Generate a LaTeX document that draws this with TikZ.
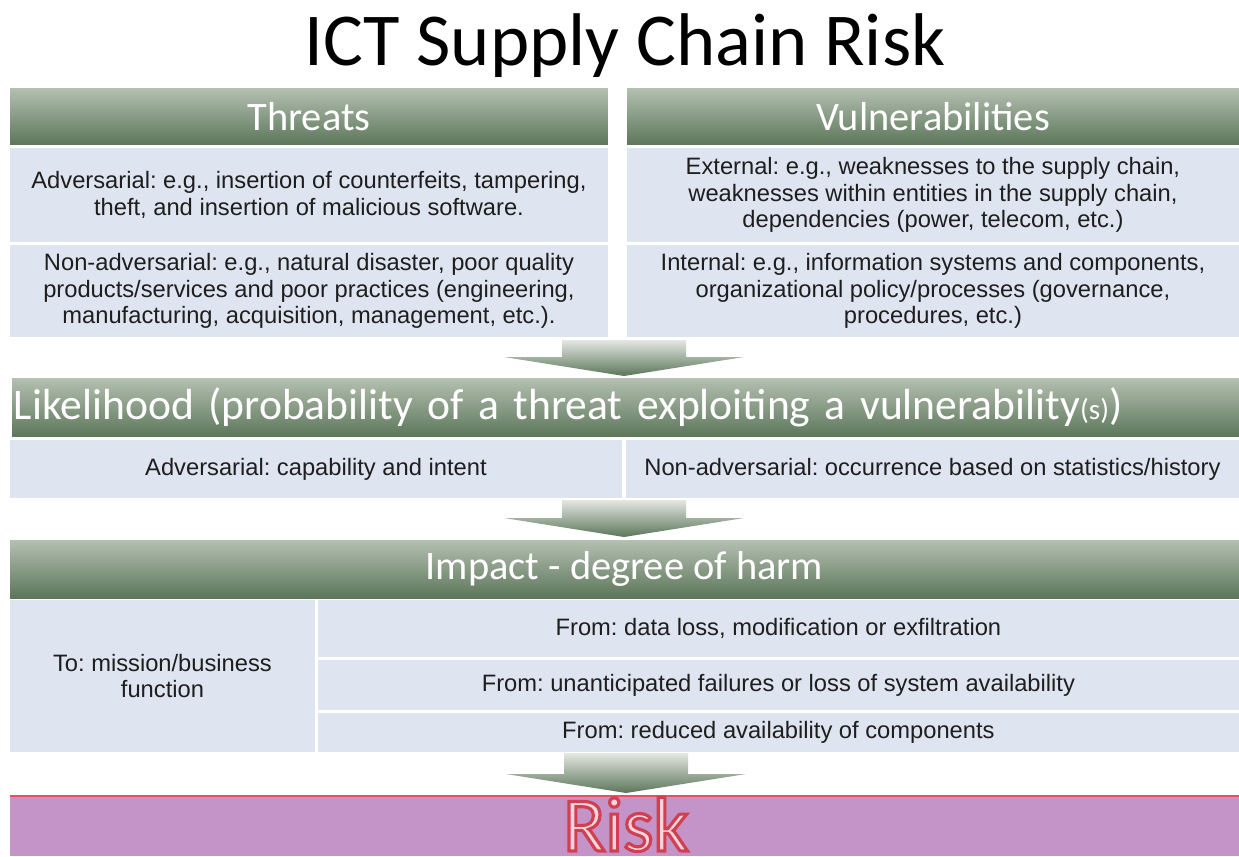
\documentclass[tikz,border=0pt]{standalone}
\usepackage{fontspec}
\setmainfont{Liberation Sans}
\newfontfamily\calibri{Carlito}
\frenchspacing

\definecolor{hdtop}{RGB}{180,192,177}
\definecolor{hdbot}{RGB}{92,118,90}
\definecolor{arrtop}{RGB}{228,231,226}
\definecolor{cellblue}{RGB}{222,228,240}
\definecolor{celltext}{RGB}{30,30,30}
\definecolor{riskbg}{RGB}{196,148,200}
\definecolor{riskline}{RGB}{226,82,98}
\definecolor{riskpink}{RGB}{246,214,220}

\tikzset{
  hdr/.style={anchor=north west, inner sep=0pt, outer sep=0pt,
    top color=hdtop, bottom color=hdbot, text=white,
    font=\calibri\fontsize{23}{25}\selectfont},
  cell/.style={anchor=north west, inner sep=0pt, outer sep=0pt,
    fill=cellblue, text=celltext, align=center,
    font=\fontsize{13.5}{15}\selectfont},
  arr/.style={top color=arrtop, bottom color=hdbot}
}

% block arrow hanging from a coordinate, #2 = shaft length
\newcommand{\blockarrow}[2]{%
  \shade[arr] (#1) ++(-62,0) -- ++(124,0) -- ++(0,#2) -- ++(58,0)
    -- ++(-120,19) -- ++(-120,-19) -- ++(58,0) -- cycle;}
% outlined text (fill and stroke)
\newcommand{\outlined}[1]{%
  \special{pdf:literal direct 2 Tr 1.8 w 0.82 0.25 0.32 RG}#1\special{pdf:literal direct 0 Tr}}

\begin{document}
\begin{tikzpicture}[x=0.02cm, y=-0.02cm]
  \useasboundingbox (0,0) rectangle (1239,856);

  \node[anchor=base, font=\calibri\fontsize{42.5}{44}\selectfont] (title) at (625,65) {ICT Supply Chain Risk};

  % threats and vulnerabilities
  \node[hdr, minimum width=11.96cm, minimum height=1.14cm] (thr) at (10,88) {Threats};
  \node[hdr, minimum width=12.24cm, minimum height=1.14cm] (vul) at (627,88) {Vulnerabilities};

  \node[cell, minimum width=11.96cm, minimum height=1.88cm] (thrA) at (10,148)
    {Adversarial: e.g., insertion of counterfeits, tampering,\\
     theft, and insertion of malicious software.};
  \node[cell, minimum width=11.96cm, minimum height=1.84cm] (thrB) at (10,245)
    {Non-adversarial: e.g., natural disaster, poor quality\\
     products/services and poor practices (engineering,\\
     manufacturing, acquisition, management, etc.).};
  \node[cell, minimum width=12.24cm, minimum height=1.88cm] (vulA) at (627,148)
    {External: e.g., weaknesses to the supply chain,\\
     weaknesses within entities in the supply chain,\\
     dependencies (power, telecom, etc.)};
  \node[cell, minimum width=12.24cm, minimum height=1.84cm] (vulB) at (627,245)
    {Internal: e.g., information systems and components,\\
     organizational policy/processes (governance,\\
     procedures, etc.)};

  \coordinate (arr1) at (624,340);
  \blockarrow{arr1}{17}

  % likelihood
  \node[hdr, minimum width=24.58cm, minimum height=1.18cm, text width=24.5cm, align=left,
    font=\calibri\fontsize{24.8}{26}\selectfont] (lik) at (12,378)
    {Likelihood (probability of a threat exploiting a vulnerability{\fontsize{16.5}{17}\selectfont(s)})};
  \node[cell, minimum width=12.24cm, minimum height=1.16cm] (likA) at (10,440)
    {Adversarial: capability and intent};
  \node[cell, minimum width=12.26cm, minimum height=1.16cm] (likB) at (626,440)
    {Non-adversarial: occurrence based on statistics/history};

  \coordinate (arr2) at (624,500);
  \blockarrow{arr2}{18}

  % impact
  \node[hdr, minimum width=24.58cm, minimum height=1.16cm] (imp) at (10,540) {Impact - degree of harm};
  \node[cell, minimum width=6.10cm, minimum height=3.04cm] (impTo) at (10,600)
    {To: mission/business\\ function};
  \node[cell, minimum width=18.42cm, minimum height=1.14cm] (impA) at (318,600)
    {From: data loss, modification or exfiltration};
  \node[cell, minimum width=18.42cm, minimum height=1.00cm] (impB) at (318,660)
    {From: unanticipated failures or loss of system availability};
  \node[cell, minimum width=18.42cm, minimum height=0.78cm] (impC) at (318,713)
    {From: reduced availability of components};

  \coordinate (arr3) at (626,753);
  \blockarrow{arr3}{21}

  % risk
  \node[anchor=north west, inner sep=0pt, outer sep=0pt, fill=riskbg,
    minimum width=24.58cm, minimum height=1.20cm] (risk) at (10,796) {};
  \draw[riskline, line width=1.2pt] (risk.north west) -- (risk.north east);
  \node[anchor=base, inner sep=0pt, text=riskpink, font=\calibri\fontsize{44}{46}\selectfont] (riskT) at (626,851)
    {\outlined{Risk}};
\end{tikzpicture}
\end{document}
